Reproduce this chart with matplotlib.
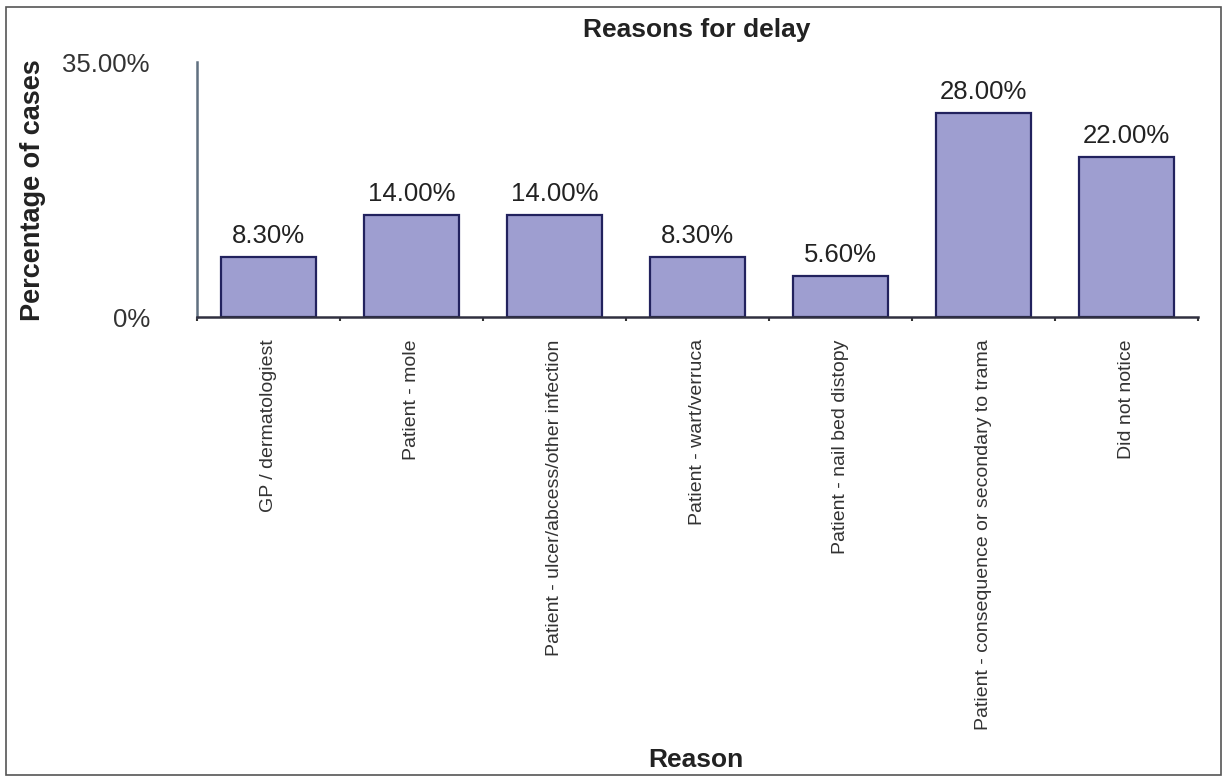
import matplotlib
matplotlib.use("Agg")
import matplotlib.pyplot as plt
from matplotlib.patches import Rectangle
import numpy as np

plt.rcParams["font.family"] = ["Liberation Sans", "DejaVu Sans"]

# data
reasons = ["GP / dermatologiest",
           "Patient - mole",
           "Patient - ulcer/abcess/other infection",
           "Patient - wart/verruca",
           "Patient - nail bed distopy",
           "Patient - consequence or secondary to trama",
           "Did not notice"]
percent = [8.3, 14.0, 14.0, 8.3, 5.6, 28.0, 22.0]
ytick_vals = [0, 35]
ytick_labels = ["0%", "35.00%"]

fig = plt.figure(figsize=(12.26, 7.78), dpi=100)
ax = fig.add_axes([0.1607, 0.5925, 0.8165, 0.3278])

x = np.arange(len(reasons))
bars = ax.bar(x, percent, width=0.66, color="#9e9ed0", edgecolor="#22225e", linewidth=1.6)

for b, v in zip(bars, percent):
    ax.text(b.get_x() + b.get_width() / 2, v + 1.2, "%.2f%%" % v,
            ha="center", va="bottom", fontsize=18.5, color="#222222")

ax.set_xlim(-0.5, len(reasons) - 0.5)
ax.set_ylim(0, 35)
ax.set_yticks(ytick_vals)
ax.set_yticklabels(ytick_labels, fontsize=18.5, color="#333333")
ax.tick_params(axis="y", length=0, pad=34)

ax.set_xticks(x)
ax.set_xticklabels(reasons, rotation=90, fontsize=14, color="#333333", va="top")
ax.set_xticks(np.arange(-0.5, len(reasons)), minor=True)
ax.tick_params(axis="x", which="major", length=0, pad=16)
ax.tick_params(axis="x", which="minor", length=3, width=1.5, color="#333333")

for s in ["top", "right"]:
    ax.spines[s].set_visible(False)
ax.spines["left"].set_color("#607080")
ax.spines["left"].set_linewidth(1.8)
ax.spines["bottom"].set_color("#303040")
ax.spines["bottom"].set_linewidth(1.8)

fig.text(0.568, 0.961, "Reasons for delay", ha="center", va="center",
         fontsize=19, fontweight="bold", color="#222222")
fig.text(0.027, 0.755, "Percentage of cases", ha="center", va="center",
         rotation=90, fontsize=19.5, fontweight="bold", color="#222222")
fig.text(0.568, 0.023, "Reason", ha="center", va="center",
         fontsize=19, fontweight="bold", color="#222222")

# outer frame
fig.patches.append(Rectangle((0.005, 0.004), 0.991, 0.987, transform=fig.transFigure,
                             fill=False, edgecolor="#555555", linewidth=1.2))

fig.savefig("out.png", dpi=100)
